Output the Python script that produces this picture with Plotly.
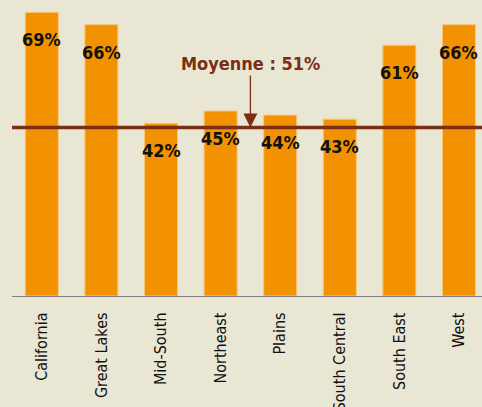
import plotly.graph_objects as go

# regions and share (%)
regions = ["California", "Great Lakes", "Mid-South", "Northeast", "Plains",
           "South Central", "South East", "West"]
shares = [69, 66, 42, 45, 44, 43, 61, 66]
share_labels = ["69%", "66%", "42%", "45%", "44%", "43%", "61%", "66%"]

# average: label text and the level at which the reference draws its line
avg_text = "Moyenne : 51%"
avg_line_level = 41
avg_arrow_x = 3.5

BG = "#E9E6D4"
ORANGE = "#F39200"
BROWN = "#7A2E12"
FONT = "DejaVu Sans Condensed, Liberation Sans Narrow, Arial Narrow, sans-serif"

fig = go.Figure()

fig.add_trace(
    go.Bar(
        x=list(range(len(regions))),
        y=shares,
        marker=dict(color=ORANGE, line=dict(color="#F8C77C", width=1)),
        hoverinfo="skip",
    )
)

# value labels inside the bars, a bit under the top
for i, (v, lab) in enumerate(zip(shares, share_labels)):
    fig.add_annotation(
        x=i, y=v, text=f"<b>{lab}</b>", showarrow=False,
        yanchor="top", yshift=-15,
        font=dict(family=FONT, size=18, color="#111111"),
    )

# average line
fig.add_shape(
    type="line", xref="paper", x0=0, x1=1, yref="y",
    y0=avg_line_level, y1=avg_line_level,
    line=dict(color=BROWN, width=3.5), layer="above",
)

# arrow + label
fig.add_annotation(
    x=avg_arrow_x, y=avg_line_level, text=f"<b>{avg_text}</b>",
    showarrow=True, ax=0, ay=-64, arrowhead=2, arrowsize=2.15,
    arrowwidth=1.3, arrowcolor=BROWN, standoff=0,
    font=dict(family=FONT, size=18, color=BROWN),
)

fig.update_layout(
    width=482, height=407,
    margin=dict(l=12, r=0, t=0, b=111),
    paper_bgcolor=BG, plot_bgcolor=BG,
    bargap=0.446,
    showlegend=False,
    font=dict(family=FONT),
    xaxis=dict(
        tickmode="array",
        tickvals=list(range(len(regions))),
        ticktext=regions,
        tickangle=-90,
        tickfont=dict(family=FONT, size=16, color="#111111"),
        range=[-0.5, 7.386],
        showline=True, linecolor="#808080", linewidth=1.2,
        showgrid=False, zeroline=False,
        ticks="", ticklabelstandoff=9,
        automargin=False,
    ),
    yaxis=dict(
        range=[0, 72.0],
        visible=False,
        showgrid=False, zeroline=False,
        automargin=False,
    ),
)

fig.write_html("out.html", config={"displayModeBar": False},
               post_script="document.body.style.margin='0';")
